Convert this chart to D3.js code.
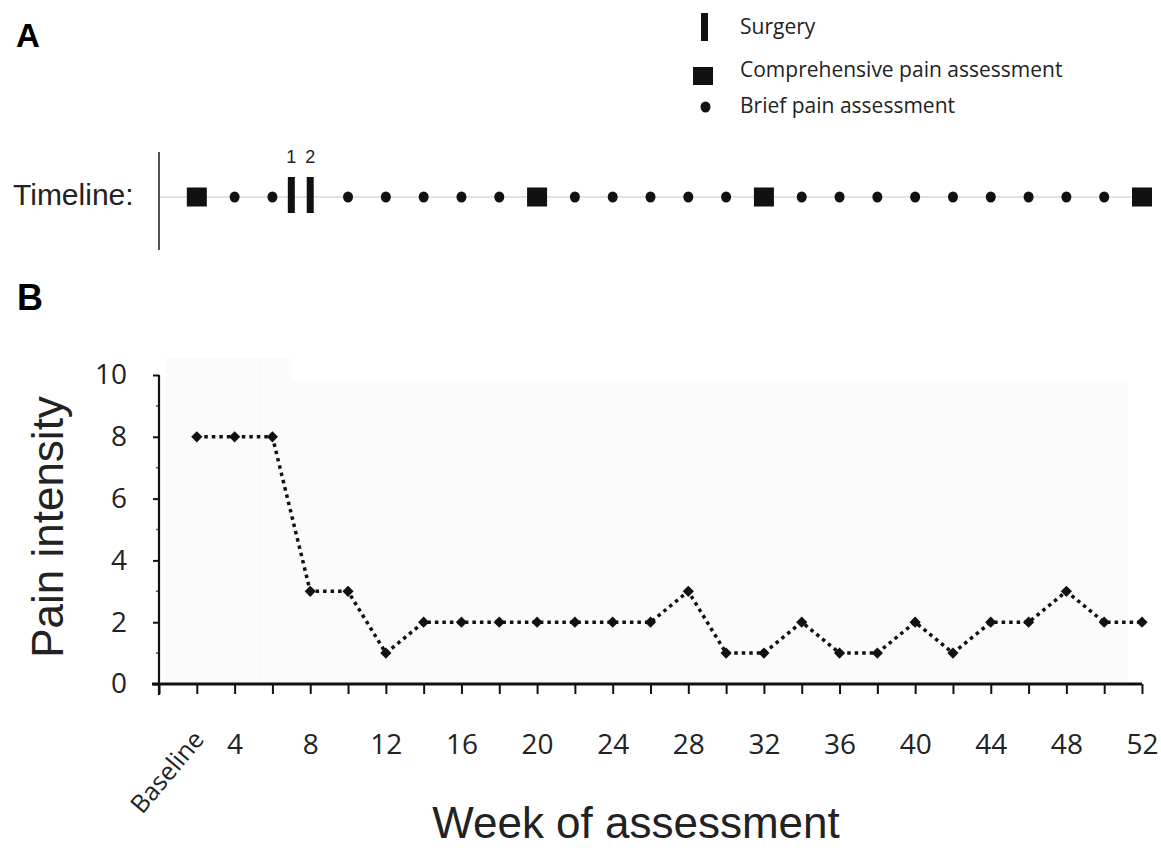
<!DOCTYPE html>
<html><head><meta charset="utf-8">
<script src="https://cdn.jsdelivr.net/npm/d3@7"></script>
<style>body{margin:0;background:#fff}svg{display:block}</style>
</head><body>
<svg id="c" width="1161" height="848"></svg>
<script>
// ---- data ----
const weeks = [2,4,6,8,10,12,14,16,18,20,22,24,26,28,30,32,34,36,38,40,42,44,46,48,50,52];
const pain  = [8,8,8,3,3,1,2,2,2,2,2,2,2,3,1,1,2,1,1,2,1,2,2,3,2,2];
const xTickWeeks = d3.range(0, 53, 2);
const xLabelWeeks = [2,4,8,12,16,20,24,28,32,36,40,44,48,52];
const baselineWeek = 2;
const yMajorTicks = [0,2,4,6,8,10];
const yMinorTicks = [1,3,5,7,9];
const surgeryWeeks = [7,8];
const surgeryLabels = ["1","2"];
const comprehensiveWeeks = [2,20,32,52];
const briefWeeks = [4,6,10,12,14,16,18,22,24,26,28,30,34,36,38,40,42,44,46,48,50];
const legendLabels = ["Surgery","Comprehensive pain assessment","Brief pain assessment"];

// ---- setup ----
const svg = d3.select("#c");
const sans = "'Liberation Sans', Arial, sans-serif";
const open = "'Open Sans', 'Noto Sans', sans-serif";
const x = d3.scaleLinear().domain([0,52]).range([159,1142]);
const y = d3.scaleLinear().domain([0,10]).range([684,375]);

// panel labels
svg.append("text").attr("x",16).attr("y",47).text("A")
  .attr("font-family",sans).attr("font-weight","bold").attr("font-size",33);
svg.append("text").attr("x",17).attr("y",310).text("B")
  .attr("font-family",sans).attr("font-weight","bold").attr("font-size",36);

// ---- legend ----
const lg = svg.append("g");
const legendY = [27, 73, 107];
lg.append("rect").attr("x",701).attr("y",legendY[0]-14).attr("width",7).attr("height",28).attr("fill","#111");
lg.append("rect").attr("x",693).attr("y",legendY[1]-6).attr("width",20).attr("height",18).attr("fill","#111");
lg.append("ellipse").attr("cx",705.5).attr("cy",legendY[2]).attr("rx",5).attr("ry",5.5).attr("fill","#111");
lg.selectAll("text.lg").data(legendLabels).join("text").attr("class","lg")
  .attr("x",740).attr("y",(d,i)=>[34,77,113][i]).text(d=>d)
  .attr("font-family",open).attr("font-size",21).attr("fill","#222");

// ---- timeline ----
const tY = 197;
svg.append("text").attr("x",13).attr("y",205).text("Timeline:")
  .attr("font-family",sans).attr("font-size",30).attr("fill","#222");
svg.append("line").attr("x1",x(0)).attr("x2",1150).attr("y1",tY).attr("y2",tY)
  .attr("stroke","#e2e2e2").attr("stroke-width",2);
svg.append("line").attr("x1",x(0)).attr("x2",x(0)).attr("y1",152).attr("y2",250)
  .attr("stroke","#555").attr("stroke-width",2);
svg.selectAll("rect.comp").data(comprehensiveWeeks).join("rect").attr("class","comp")
  .attr("x",d=>x(d)-10).attr("y",tY-9.5).attr("width",20).attr("height",19).attr("fill","#111");
svg.selectAll("ellipse.brief").data(briefWeeks).join("ellipse").attr("class","brief")
  .attr("cx",d=>x(d)).attr("cy",tY).attr("rx",5).attr("ry",5.5).attr("fill","#111");
svg.selectAll("rect.surg").data(surgeryWeeks).join("rect").attr("class","surg")
  .attr("x",d=>x(d)-3.5).attr("y",177).attr("width",7).attr("height",36).attr("fill","#111");
svg.selectAll("text.surg").data(surgeryWeeks).join("text").attr("class","surg")
  .attr("x",d=>x(d)).attr("y",163).attr("text-anchor","middle").text((d,i)=>surgeryLabels[i])
  .attr("font-family",sans).attr("font-size",18).attr("fill","#222");

// ---- chart B background ----
svg.append("rect").attr("x",165).attr("y",358).attr("width",127).attr("height",y(0)-358).attr("fill","#fbfbfb");
svg.append("rect").attr("x",292).attr("y",380).attr("width",836).attr("height",y(0)-380).attr("fill","#fbfbfb");
svg.append("line").attr("x1",260).attr("x2",260).attr("y1",358).attr("y2",y(0)).attr("stroke","#f4f4f4").attr("stroke-width",1);

// ---- y axis ----
const yAxis = svg.append("g").attr("transform",`translate(${x(0)},0)`)
  .call(d3.axisLeft(y).tickValues(yMajorTicks).tickSize(6).tickPadding(26).tickSizeOuter(0));
yAxis.select(".domain").remove();
yAxis.selectAll(".tick line").attr("stroke","#111").attr("stroke-width",2);
yAxis.selectAll(".tick text").attr("font-family",open).attr("font-size",28).attr("fill","#222");
yAxis.selectAll("line.minor").data(yMinorTicks).join("line").attr("class","minor")
  .attr("x1",-3).attr("x2",0).attr("y1",d=>y(d)).attr("y2",d=>y(d)).attr("stroke","#555").attr("stroke-width",1.5);
svg.append("line").attr("x1",x(0)).attr("x2",x(0)).attr("y1",y(10)).attr("y2",y(0)+11)
  .attr("stroke","#111").attr("stroke-width",2.2);

// ---- x axis ----
const xAxis = svg.append("g").attr("transform",`translate(0,${y(0)})`)
  .call(d3.axisBottom(x).tickValues(xTickWeeks).tickSize(10).tickPadding(40).tickSizeOuter(0)
    .tickFormat(d => xLabelWeeks.includes(d) ? (d===baselineWeek ? "Baseline" : d) : ""));
xAxis.select(".domain").remove();
xAxis.selectAll(".tick line").attr("stroke","#111").attr("stroke-width",2);
xAxis.selectAll(".tick text").attr("font-family",open).attr("font-size",28).attr("fill","#222");
xAxis.selectAll(".tick").filter(d=>d===baselineWeek).select("text")
  .attr("y",0).attr("dy",0).attr("text-anchor","end").attr("font-size",25)
  .attr("transform","translate(8,56) rotate(-50)");
svg.append("line").attr("x1",152).attr("x2",x(52)).attr("y1",y(0)).attr("y2",y(0))
  .attr("stroke","#111").attr("stroke-width",3);

// axis titles
svg.append("text").attr("transform",`translate(63,527) rotate(-90)`).attr("text-anchor","middle")
  .text("Pain intensity").attr("font-family",sans).attr("font-size",44).attr("fill","#222");
svg.append("text").attr("x",636).attr("y",838).attr("text-anchor","middle").text("Week of assessment")
  .attr("font-family",sans).attr("font-size",44).attr("fill","#222");

// ---- series ----
const pts = weeks.map((w,i)=>({w, v:pain[i]}));
svg.append("path").datum(pts)
  .attr("d", d3.line().x(d=>x(d.w)).y(d=>y(d.v)))
  .attr("fill","none").attr("stroke","#111").attr("stroke-width",3.5).attr("stroke-dasharray","3.5,4");
svg.selectAll("path.pt").data(pts).join("path").attr("class","pt")
  .attr("transform",d=>`translate(${x(d.w)},${y(d.v)})`)
  .attr("d", d3.symbol(d3.symbolDiamond2, 80)).attr("fill","#111");
</script>
</body></html>
